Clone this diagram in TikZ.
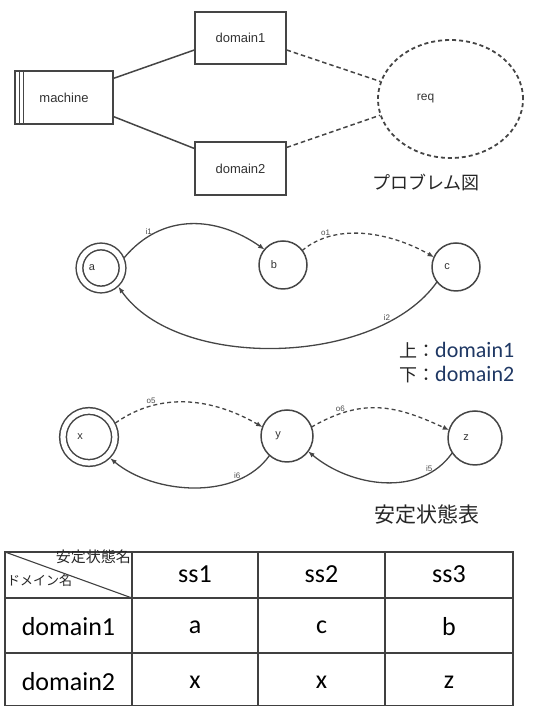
\documentclass[tikz,border=0pt]{standalone}
\usepackage{fontspec}
\setmainfont{Carlito}
\newfontfamily\jpfont{Noto Sans CJK JP}
\newfontfamily\figfont{Liberation Sans}
\usetikzlibrary{arrows.meta,shapes.geometric,positioning}

\definecolor{linegray}{HTML}{454545}
\definecolor{legendblue}{HTML}{1F3864}

\begin{document}
\begin{tikzpicture}[x=1pt, y=1pt,
    pbox/.style={draw=linegray, line width=1.3pt, minimum width=91pt, minimum height=52pt, inner sep=0pt, font=\figfont\fontsize{13}{15}\selectfont, text=black!80},
    mbox/.style={pbox, minimum width=98pt, minimum height=53pt,
      path picture={\draw[linegray, line width=1pt]
        ([xshift=4.3pt]path picture bounding box.north west) -- ([xshift=4.3pt]path picture bounding box.south west)
        ([xshift=8.3pt]path picture bounding box.north west) -- ([xshift=8.3pt]path picture bounding box.south west);}},
    reqshape/.style={ellipse, draw=linegray, line width=1.8pt, dash pattern=on 4pt off 3pt, minimum width=145pt, minimum height=118pt, inner sep=0pt},
    link/.style={draw=linegray, line width=1.5pt},
    dlink/.style={link, dash pattern=on 4.5pt off 3pt},
    state/.style={circle, draw=linegray, line width=1.5pt, inner sep=0pt, outer sep=0pt},
    accept/.style={state, double, double distance=5.2pt, outer sep=4pt},
    sname/.style={font=\figfont\fontsize{11}{13}\selectfont, text=black!80, xshift=-9pt},
    trans/.style={draw=linegray, line width=1.3pt, -{Latex[length=6.5pt,width=5pt]}},
    otrans/.style={trans, dash pattern=on 4pt off 3pt},
    elab/.style={font=\figfont\fontsize{8}{9}\selectfont, text=black!70, inner sep=1.5pt},
    jptitle/.style={font=\jpfont\fontsize{18}{20}\selectfont, text=black!85, inner sep=0pt},
    legend/.style={font=\fontsize{22}{24}\selectfont, text=black!85, inner sep=0pt},
    tline/.style={draw=black!75, line width=1.1pt},
    cell/.style={font=\fontsize{26}{28}\selectfont, inner sep=0pt}]
  \useasboundingbox (0,0) rectangle (558,706);

  % problem diagram
  \node[mbox] (machine) at (64,608.5) {machine};
  \node[pbox] (domain1) at (240.5,668) {domain1};
  \node[pbox, minimum height=53pt] (domain2) at (240.5,537.5) {domain2};
  \node[reqshape, label={[font=\figfont\fontsize{12}{14}\selectfont, text=black!80, xshift=-25pt]center:req}] (req) at (450.5,607) {};
  \draw[link] ([yshift=-8pt]machine.north east) -- ([yshift=-12pt]domain1.west);
  \draw[link] ([yshift=8pt]machine.south east) -- ([yshift=20pt]domain2.west);
  \draw[dlink] ([yshift=-12pt]domain1.east) -- (req.166);
  \draw[dlink] ([yshift=21pt]domain2.east) -- (req.193);
  \node[jptitle] (ptitle) at (426,524) {プロブレム図};

  % domain1 states
  \node[accept, minimum size=43pt, label={[sname]center:a}] (a) at (101,438) {};
  \node[state, minimum size=48pt, label={[sname]center:b}] (b) at (283,441) {};
  \node[state, minimum size=48pt, label={[sname]center:c}] (c) at (456,439) {};
  \draw[trans] (a.24) to[out=50, in=145, looseness=1.07] node[elab, pos=.2, above] {i1} (b.140);
  \draw[otrans] (b.37) to[out=40, in=150, looseness=.9] node[elab, pos=.2, above] {o1} (c.156);
  \draw[trans] (c.218) to[out=235, in=305, looseness=.83] node[elab, pos=.2, above] {i2} (a.313);

  \node[legend, anchor=west] (upper) at (399,356) {{\jpfont\fontsize{18}{20}\selectfont 上：}\textcolor{legendblue}{domain1}};
  \node[legend, anchor=west] (lower) at (399,331) {{\jpfont\fontsize{18}{20}\selectfont 下：}\textcolor{legendblue}{domain2}};

  % domain2 states
  \node[accept, minimum size=52pt, label={[sname]center:x}] (x) at (89,269) {};
  \node[state, minimum size=52pt, label={[sname]center:y}] (y) at (287,270) {};
  \node[state, minimum size=54pt, label={[sname]center:z}] (z) at (475,268) {};
  \draw[otrans] (x.28) to[out=35, in=150, looseness=.98] node[elab, pos=.25, above] {o5} (y.160);
  \draw[otrans] (y.20) to[out=30, in=155, looseness=1.1] node[elab, pos=.2, above] {o6} (z.163);
  \draw[trans] (y.228) to[out=235, in=320, looseness=.9] node[elab, pos=.25, above] {i6} (x.315);
  \draw[trans] (z.213) to[out=235, in=320, looseness=.98] node[elab, pos=.2, above] {i5} (y.324);

  % stable state table
  \node[jptitle, font=\jpfont\fontsize{21}{23}\selectfont] (stitle) at (427,191) {安定状態表};
  \draw[tline] (5,154) rectangle (513,0.5);
  \draw[tline] (5,108) -- (513,108);
  \draw[tline] (5,53) -- (513,53);
  \draw[tline] (132,154) -- (132,0.5);
  \draw[tline] (258,154) -- (258,0.5);
  \draw[tline] (385,154) -- (385,0.5);
  \draw[tline] (5,154) -- (132,108);
  \node[font=\jpfont\fontsize{15}{17}\selectfont, inner sep=0pt, anchor=east, text=black!85] (colname) at (131,149) {安定状態名};
  \node[font=\jpfont\fontsize{13}{15}\selectfont, inner sep=0pt, anchor=west, text=black!85] (rowname) at (7,125) {ドメイン名};
  \node[cell] (ss1) at (195,132) {ss1};
  \node[cell] (ss2) at (321.5,132) {ss2};
  \node[cell] (ss3) at (449,132) {ss3};
  \node[cell] (d1) at (68.5,79) {domain1};
  \node[cell] (d1a) at (195,79) {a};
  \node[cell] (d1b) at (321.5,79) {c};
  \node[cell] (d1c) at (449,79) {b};
  \node[cell] (d2) at (68.5,24) {domain2};
  \node[cell] (d2a) at (195,24) {x};
  \node[cell] (d2b) at (321.5,24) {x};
  \node[cell] (d2c) at (449,24) {z};
\end{tikzpicture}
\end{document}
